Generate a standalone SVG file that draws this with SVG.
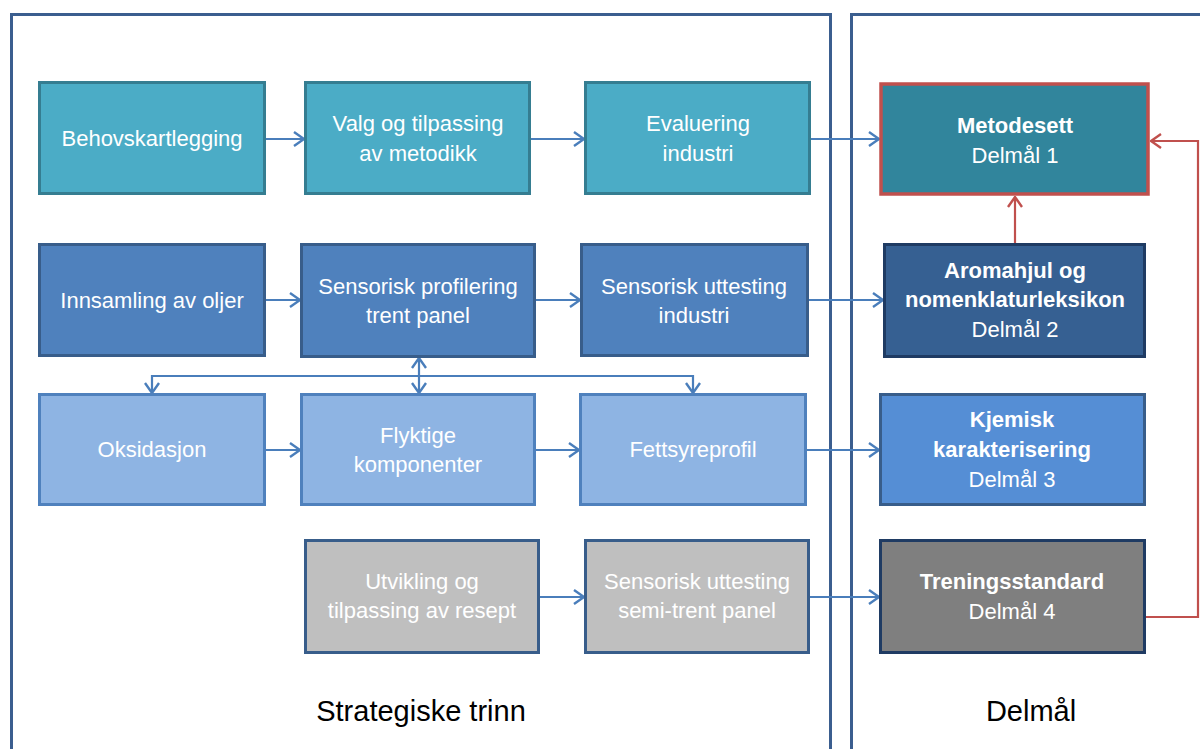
<svg xmlns="http://www.w3.org/2000/svg" width="1200" height="749" viewBox="0 0 1200 749">
<defs>
<style>
.frame{fill:none;stroke:#3b5e8f;stroke-width:3}
.t{font-family:"Liberation Sans",Arial,sans-serif;font-size:22px;fill:#ffffff;text-anchor:middle}
.b{font-weight:bold}
.r1{fill:#4bacc6;stroke:#357d91;stroke-width:3}
.r2{fill:#4f81bd;stroke:#385d8a;stroke-width:3}
.r3{fill:#8eb4e3;stroke:#4f81bd;stroke-width:3}
.r4{fill:#bfbfbf;stroke:#385d8a;stroke-width:3}
.c{fill:none;stroke:#4a7ebb;stroke-width:2.2}
.cr{fill:none;stroke:#c0504d;stroke-width:2.2}
.lbl{font-family:"Liberation Sans",Arial,sans-serif;font-size:29px;fill:#000000;text-anchor:middle}
</style>
<marker id="ab" viewBox="0 0 12 16" refX="11" refY="8" markerWidth="12" markerHeight="16" markerUnits="userSpaceOnUse" orient="auto-start-reverse">
<polyline points="1,1 11,8 1,15" fill="none" stroke="#4a7ebb" stroke-width="2.4"/>
</marker>
<marker id="ar" viewBox="0 0 12 16" refX="11" refY="8" markerWidth="12" markerHeight="16" markerUnits="userSpaceOnUse" orient="auto-start-reverse">
<polyline points="1,1 11,8 1,15" fill="none" stroke="#c0504d" stroke-width="2.4"/>
</marker>
</defs>
<rect width="1200" height="749" fill="#ffffff"/>
<g id="containers">
<rect class="frame" x="11.5" y="14.5" width="819" height="760"/>
<rect class="frame" x="851.5" y="14.5" width="380" height="760"/>
</g>
<g id="connectors">
<line class="c" x1="266" y1="139" x2="304" y2="139" marker-end="url(#ab)"/>
<line class="c" x1="531" y1="139" x2="584" y2="139" marker-end="url(#ab)"/>
<line class="c" x1="811" y1="139" x2="879" y2="139" marker-end="url(#ab)"/>
<line class="c" x1="266" y1="300" x2="300" y2="300" marker-end="url(#ab)"/>
<line class="c" x1="536" y1="300" x2="580" y2="300" marker-end="url(#ab)"/>
<line class="c" x1="809" y1="300" x2="883" y2="300" marker-end="url(#ab)"/>
<line class="c" x1="266" y1="450" x2="300" y2="450" marker-end="url(#ab)"/>
<line class="c" x1="536" y1="450" x2="579" y2="450" marker-end="url(#ab)"/>
<line class="c" x1="807" y1="450" x2="879" y2="450" marker-end="url(#ab)"/>
<line class="c" x1="540" y1="597" x2="584" y2="597" marker-end="url(#ab)"/>
<line class="c" x1="810" y1="597" x2="879" y2="597" marker-end="url(#ab)"/>
<polyline class="c" points="152,393 152,376 693,376 693,393" marker-start="url(#ab)" marker-end="url(#ab)"/>
<line class="c" x1="419" y1="358" x2="419" y2="393" marker-start="url(#ab)" marker-end="url(#ab)"/>
<line class="cr" x1="1015" y1="243" x2="1015" y2="197" marker-end="url(#ar)"/>
<polyline class="cr" points="1146,617 1198,617 1198,141 1151,141" marker-end="url(#ar)"/>
</g>
<g id="n-behov"><rect class="r1" x="39.5" y="82.5" width="225" height="111"/><text class="t" x="152" y="146">Behovskartlegging</text></g>
<g id="n-valg"><rect class="r1" x="305.5" y="82.5" width="224" height="111"/><text class="t" x="418" y="131">Valg og tilpassing</text><text class="t" x="418" y="161">av metodikk</text></g>
<g id="n-eval"><rect class="r1" x="585.5" y="82.5" width="224" height="111"/><text class="t" x="698" y="131">Evaluering</text><text class="t" x="698" y="161">industri</text></g>
<g id="n-innsamling"><rect class="r2" x="39.5" y="244.5" width="225" height="111"/><text class="t" x="152" y="308">Innsamling av oljer</text></g>
<g id="n-profilering"><rect class="r2" x="301.5" y="244.5" width="233" height="112"/><text class="t" x="418" y="294">Sensorisk profilering</text><text class="t" x="418" y="323">trent panel</text></g>
<g id="n-uttesting"><rect class="r2" x="581.5" y="244.5" width="226" height="111"/><text class="t" x="694" y="294">Sensorisk uttesting</text><text class="t" x="694" y="323">industri</text></g>
<g id="n-oksidasjon"><rect class="r3" x="39.5" y="394.5" width="225" height="110"/><text class="t" x="152" y="457">Oksidasjon</text></g>
<g id="n-flyktige"><rect class="r3" x="301.5" y="394.5" width="233" height="110"/><text class="t" x="418" y="443">Flyktige</text><text class="t" x="418" y="472">komponenter</text></g>
<g id="n-fettsyre"><rect class="r3" x="580.5" y="394.5" width="225" height="110"/><text class="t" x="693" y="457">Fettsyreprofil</text></g>
<g id="n-utvikling"><rect class="r4" x="305.5" y="540.5" width="233" height="112"/><text class="t" x="422" y="589" fill="#f2f2f2">Utvikling og</text><text class="t" x="422" y="618" fill="#f2f2f2">tilpassing av resept</text></g>
<g id="n-semi"><rect class="r4" x="585.5" y="540.5" width="223" height="112"/><text class="t" x="697" y="589" fill="#f2f2f2">Sensorisk uttesting</text><text class="t" x="697" y="618" fill="#f2f2f2">semi-trent panel</text></g>
<g id="n-metodesett"><rect x="881" y="84" width="267" height="110" fill="#31859c" stroke="#c0504d" stroke-width="3.5"/><text class="t b" x="1015" y="133">Metodesett</text><text class="t" x="1015" y="163">Delmål 1</text></g>
<g id="n-aromahjul"><rect x="884.5" y="244.5" width="260" height="112" fill="#366092" stroke="#1f3b63" stroke-width="3"/><text class="t b" x="1015" y="278">Aromahjul og</text><text class="t b" x="1015" y="307">nomenklaturleksikon</text><text class="t" x="1015" y="337">Delmål 2</text></g>
<g id="n-kjemisk"><rect x="880.5" y="394.5" width="264" height="110" fill="#558ed5" stroke="#385d8a" stroke-width="3"/><text class="t b" x="1012" y="427">Kjemisk</text><text class="t b" x="1012" y="457">karakterisering</text><text class="t" x="1012" y="487">Delmål 3</text></g>
<g id="n-trening"><rect x="880.5" y="540.5" width="264" height="112" fill="#7f7f7f" stroke="#1f3b63" stroke-width="3"/><text class="t b" x="1012" y="589">Treningsstandard</text><text class="t" x="1012" y="619">Delmål 4</text></g>
<g id="labels">
<text class="lbl" x="421" y="721">Strategiske trinn</text>
<text class="lbl" x="1031" y="721">Delmål</text>
</g>
</svg>
